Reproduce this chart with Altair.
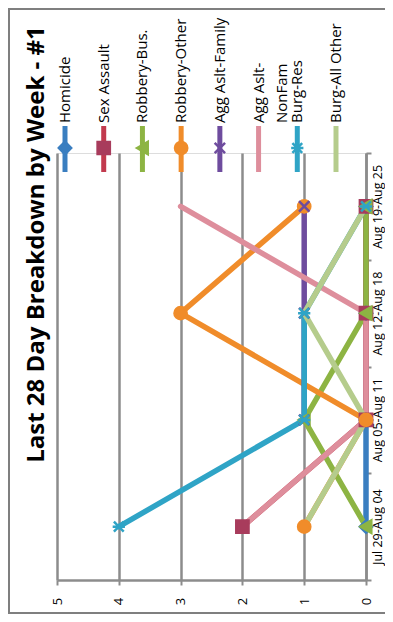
import altair as alt
import pandas as pd

# ---- data ----
weeks = ["Jul 29-Aug 04", "Aug 05-Aug 11", "Aug 12-Aug 18", "Aug 19-Aug 25"]
series = ["Homicide", "Sex Assault", "Robbery-Bus.", "Robbery-Other",
          "Agg Aslt-Family", "Agg Aslt-NonFam", "Burg-Res", "Burg-All Other"]
legend_labels = ["Homicide", "Sex Assault", "Robbery-Bus.", "Robbery-Other",
                 "Agg Aslt-Family", "Agg Aslt-\nNonFam", "Burg-Res", "Burg-All Other"]

homicide = [0, 0, 0, 0]
sex_assault = [2, 0, 0, 0]
robbery_bus = [0, 1, 0, 0]
robbery_other = [1, 0, 3, 1]
agg_aslt_family = [None, 1, 1, 1]
agg_aslt_nonfam = [2, 0, 0, 3]
burg_res = [4, 1, 1, 0]
burg_all_other = [1, 0, 1, 0]
values = [homicide, sex_assault, robbery_bus, robbery_other,
          agg_aslt_family, agg_aslt_nonfam, burg_res, burg_all_other]

# ---- styles ----
line_colors = ["#3A7EC0", "#C23A4E", "#8DB443", "#F08C2A",
               "#6E4C9E", "#DE8E9C", "#2FA4C6", "#B5CC8C"]
marker_colors = ["#3A7EC0", "#A83C5C", "#8DB443", "#F08C2A",
                 "#6E4C9E", "#DE8E9C", "#2FA4C6", "#B5CC8C"]
X_PATH = "M-0.85,-0.85L0.85,0.85M-0.85,0.85L0.85,-0.85"
STAR_PATH = "M-0.8,-0.8L0.8,0.8M-0.8,0.8L0.8,-0.8M-1,0L1,0"
markers = ["diamond", "square", "triangle-left", "circle",
           X_PATH, "none", STAR_PATH, "none"]

GRID = "#8C8C8C"
FONT = "Open Sans"

rows = []
for i, (s, vals) in enumerate(zip(series, values)):
    for w, v in zip(weeks, vals):
        rows.append({"series": s, "idx": i, "week": w, "value": v,
                     "marker": markers[i], "mcolor": marker_colors[i]})
df = pd.DataFrame(rows)

leg_df = pd.DataFrame({"series": series, "label": legend_labels,
                       "idx": list(range(len(series))), "marker": markers,
                       "lcolor": line_colors, "mcolor": marker_colors})

x_main = alt.X("value:Q",
               scale=alt.Scale(domain=[0, 5], reverse=True, nice=False),
               axis=alt.Axis(values=[0, 1, 2, 3, 4, 5], format="d", grid=True,
                             gridColor=GRID, gridWidth=2.5,
                             domainColor=GRID, domainWidth=2.5,
                             tickColor=GRID, tickWidth=2, tickSize=5,
                             labelAngle=270, labelAlign="center",
                             labelBaseline="middle", labelPadding=16,
                             labelFont=FONT, labelFontSize=13,
                             labelColor="black", title=None))
y_main = alt.Y("week:N", sort=list(reversed(weeks)),
               scale=alt.Scale(type="band", paddingInner=0, paddingOuter=0),
               bandPosition=0.5,
               axis=alt.Axis(orient="right", grid=False, tickBand="extent",
                             domainColor=GRID, domainWidth=2.5,
                             tickColor=GRID, tickWidth=2, tickSize=5,
                             labelAngle=270, labelAlign="center",
                             labelBaseline="middle", labelPadding=6,
                             labelFont=FONT, labelFontSize=12.5,
                             labelOverlap=False, labelColor="black",
                             title=None))

frame = alt.Chart(alt.Data(values=[{}])).mark_rect(
    fillOpacity=0, stroke="#7F7F7F", strokeWidth=2
).encode(x=alt.value(-48), x2=alt.value(345), y=alt.value(-144), y2=alt.value(460))

line_layers = []
for i, s in enumerate(series):
    line_layers.append(
        alt.Chart(df).transform_filter(alt.datum.series == s).mark_line(
            color=line_colors[i], strokeWidth=5.5, strokeJoin="round", strokeCap="round"
        ).encode(x=x_main, y=y_main)
    )

points = alt.Chart(df).transform_filter(alt.datum.marker != "none").mark_point(
    filled=True, size=150, strokeWidth=2.5, opacity=1
).encode(
    x=x_main, y=y_main,
    shape=alt.Shape("marker:N", scale=None),
    color=alt.Color("mcolor:N", scale=None),
    stroke=alt.Stroke("mcolor:N", scale=None),
    order=alt.Order("idx:Q"),
)

main = alt.layer(frame, *line_layers, points)

leg_x = alt.X("series:N", sort=series,
              scale=alt.Scale(type="point", range=[8, 279], padding=0), axis=None)
leg_rule = alt.Chart(leg_df).mark_rule(strokeWidth=5).encode(
    x=leg_x, y=alt.value(-27), y2=alt.value(19),
    color=alt.Color("lcolor:N", scale=None))
leg_pts = alt.Chart(leg_df).transform_filter(alt.datum.marker != "none").mark_point(
    filled=True, size=150, strokeWidth=2.5, opacity=1
).encode(
    x=leg_x, y=alt.value(-5),
    shape=alt.Shape("marker:N", scale=None),
    color=alt.Color("mcolor:N", scale=None),
    stroke=alt.Stroke("mcolor:N", scale=None))
leg_text = alt.Chart(leg_df).mark_text(
    angle=270, align="left", baseline="middle", lineBreak="\n", lineHeight=23,
    font=FONT, fontSize=15, color="black"
).encode(x=leg_x, y=alt.value(-30), text="label:N")

legend = alt.layer(leg_rule, leg_pts, leg_text)

chart = alt.layer(main, legend).resolve_scale(x="independent").properties(
    width=309, height=427,
    autosize=alt.AutoSizeParams(type="none"),
    padding={"left": 49, "top": 145, "right": 19, "bottom": 34},
    title=alt.TitleParams("Last 28 Day Breakdown by Week - #1", orient="left",
                          anchor="middle", font=FONT, fontSize=24,
                          fontWeight="bold", color="black", baseline="alphabetic",
                          offset=-60, dx=122),
).configure_view(stroke=None).configure(background="white")

chart.save("out.html", embed_options={"renderer": "svg", "actions": False})
